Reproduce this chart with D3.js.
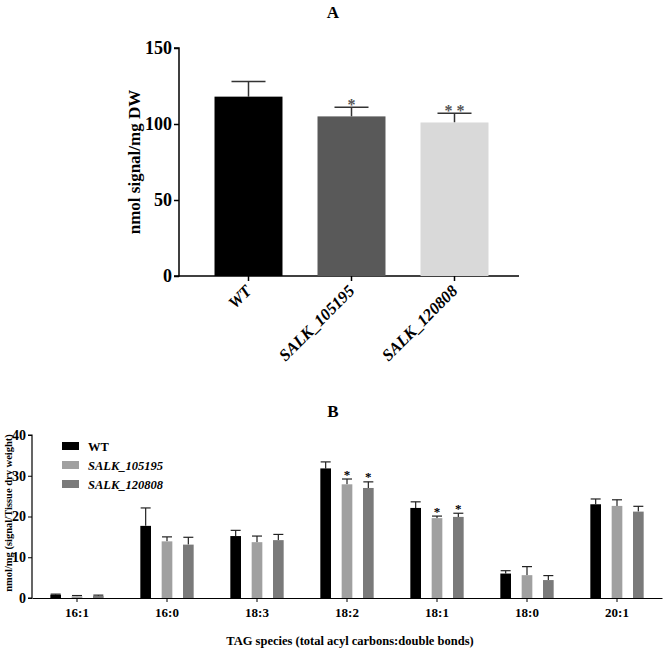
<!DOCTYPE html>
<html><head><meta charset="utf-8">
<script src="https://cdn.jsdelivr.net/npm/d3@7"></script>
<style>body{margin:0;background:#fff}svg{display:block}text{font-family:"Liberation Serif","Times New Roman",serif;font-weight:bold}</style>
</head><body><svg id="c" width="666" height="651"></svg>
<script>
// Panel A data
const aCategories = ["WT", "SALK_105195", "SALK_120808"];
const aValues = [118, 105, 101];
const aErrors = [10, 6, 6];
const aSig = ["", "*", "* *"];
const aColors = ["#000000", "#595959", "#d9d9d9"];
const aTicks = [0, 50, 100, 150];

// Panel B data
const bCategories = ["16:1", "16:0", "18:3", "18:2", "18:1", "18:0", "20:1"];
const bSeries = ["WT", "SALK_105195", "SALK_120808"];
const bWT = [0.8, 17.7, 15.2, 31.8, 22.1, 6.0, 23.0];
const bWTErr = [0.15, 4.4, 1.4, 1.6, 1.5, 0.7, 1.3];
const b105 = [0.4, 13.9, 13.7, 27.9, 19.6, 5.6, 22.6];
const b105Err = [0.2, 1.1, 1.5, 1.3, 0.5, 2.1, 1.5];
const b120 = [0.5, 13.1, 14.2, 27.0, 19.9, 4.4, 21.2];
const b120Err = [0.2, 1.8, 1.4, 1.5, 0.9, 1.1, 1.3];
const bSig105 = ["", "", "", "*", "*", "", ""];
const bSig120 = ["", "", "", "*", "*", "", ""];
const bColors = ["#000000", "#a0a0a0", "#7a7a7a"];
const bTicks = [0, 10, 20, 30, 40];

const svg = d3.select("#c");

// ---------- Panel A ----------
const ay = d3.scaleLinear().domain([0, 150]).range([276, 48]);
const ax = d3.scaleBand().domain(aCategories).range([197, 506]).paddingInner(0.34).paddingOuter(0.17);
const gA = svg.append("g");
gA.append("text").attr("x", 333).attr("y", 18).attr("text-anchor", "middle").attr("font-size", 17).text("A");
const yAxA = d3.axisLeft(ay).tickValues(aTicks).tickSize(5).tickPadding(2);
const gyA = gA.append("g").attr("transform", "translate(179,0)").call(yAxA);
gyA.select(".domain").attr("stroke-width", 1.5).attr("d", "M-5,276H0V48H-5");
gyA.selectAll("line").attr("stroke-width", 1.5);
gyA.selectAll("text").attr("font-size", 18).attr("font-family", "Liberation Serif").attr("font-weight", "bold").attr("fill", "#000");
gA.append("line").attr("x1", 179).attr("x2", 519).attr("y1", 276).attr("y2", 276).attr("stroke", "#000").attr("stroke-width", 1.5);
aCategories.forEach((c, i) => {
  const cx = ax(c) + ax.bandwidth() / 2;
  gA.append("line").attr("x1", cx).attr("x2", cx).attr("y1", 276).attr("y2", 281).attr("stroke", "#000").attr("stroke-width", 1.5);
  gA.append("line").attr("x1", cx).attr("x2", cx).attr("y1", ay(aValues[i])).attr("y2", ay(aValues[i] + aErrors[i])).attr("stroke", "#333").attr("stroke-width", 1.5);
  gA.append("line").attr("x1", cx - 17).attr("x2", cx + 17).attr("y1", ay(aValues[i] + aErrors[i])).attr("y2", ay(aValues[i] + aErrors[i])).attr("stroke", "#333").attr("stroke-width", 1.5);
  gA.append("rect").attr("x", ax(c)).attr("y", ay(aValues[i])).attr("width", ax.bandwidth()).attr("height", ay(0) - ay(aValues[i]))
    .attr("fill", aColors[i]);
  if (aSig[i]) gA.append("text").attr("x", cx).attr("y", ay(aValues[i] + aErrors[i]) + 3).attr("text-anchor", "middle").attr("font-size", 16).attr("fill", "#555").text(aSig[i]);
  gA.append("text").attr("transform", `translate(${cx + 4},${292}) rotate(-45)`).attr("text-anchor", "end").attr("font-size", 16.5).attr("font-style", "italic").text(c);
});
gA.append("text").attr("transform", "translate(140,162) rotate(-90)").attr("text-anchor", "middle").attr("font-size", 17).text("nmol signal/mg DW");

// ---------- Panel B ----------
const by = d3.scaleLinear().domain([0, 40]).range([598, 435]);
const bx = d3.scaleBand().domain(bCategories).range([32, 662]);
const bsub = d3.scaleBand().domain(bSeries).range([-32, 32]).paddingInner(0.5).paddingOuter(0.25);
const gB = svg.append("g");
gB.append("text").attr("x", 333).attr("y", 417).attr("text-anchor", "middle").attr("font-size", 17).text("B");
const gyB = gB.append("g").attr("transform", "translate(32,0)").call(d3.axisLeft(by).tickValues(bTicks).tickSize(4).tickPadding(2));
gyB.select(".domain").attr("stroke-width", 1.2).attr("d", "M-4,598H0V435H-4");
gyB.selectAll("text").attr("font-size", 14).attr("font-family", "Liberation Serif").attr("font-weight", "bold").attr("fill", "#000");
const gxB = gB.append("g").attr("transform", "translate(0,598)").call(d3.axisBottom(bx).tickSize(4).tickPadding(6).tickSizeOuter(0));
gxB.select(".domain").attr("stroke-width", 1.2);
gxB.selectAll("text").attr("font-size", 13).attr("font-family", "Liberation Serif").attr("font-weight", "bold").attr("fill", "#000");
const bVals = [bWT, b105, b120], bErrs = [bWTErr, b105Err, b120Err], bSigs = [null, bSig105, bSig120];
bCategories.forEach((c, j) => {
  const gc = bx(c) + bx.bandwidth() / 2;
  bSeries.forEach((s, i) => {
    const v = bVals[i][j], e = bErrs[i][j];
    const x0 = gc + bsub(s), w = bsub.bandwidth(), cx = x0 + w / 2;
    gB.append("line").attr("x1", cx).attr("x2", cx).attr("y1", by(v)).attr("y2", by(v + e)).attr("stroke", "#222").attr("stroke-width", 1.2);
    gB.append("line").attr("x1", cx - 5).attr("x2", cx + 5).attr("y1", by(v + e)).attr("y2", by(v + e)).attr("stroke", "#222").attr("stroke-width", 1.2);
    gB.append("rect").attr("x", x0).attr("y", by(v)).attr("width", w).attr("height", by(0) - by(v)).attr("fill", bColors[i]);
    if (bSigs[i] && bSigs[i][j]) gB.append("text").attr("x", cx).attr("y", by(v + e) - 0.5).attr("text-anchor", "middle").attr("font-size", 13).text(bSigs[i][j]);
  });
});
// legend
bSeries.forEach((s, i) => {
  const yy = 446 + i * 19;
  gB.append("rect").attr("x", 62).attr("y", yy - 4).attr("width", 17).attr("height", 8).attr("fill", bColors[i]);
  gB.append("text").attr("x", 88).attr("y", yy + 4.5).attr("font-size", 12.5).attr("font-style", i ? "italic" : "normal").text(s);
});
gB.append("text").attr("transform", "translate(12,513) rotate(-90)").attr("text-anchor", "middle").attr("font-size", 10.5).text("nmol/mg (signal/Tissue dry weight)");
gB.append("text").attr("x", 350).attr("y", 645).attr("text-anchor", "middle").attr("font-size", 12.5).text("TAG species (total acyl carbons:double bonds)");
</script></body></html>
